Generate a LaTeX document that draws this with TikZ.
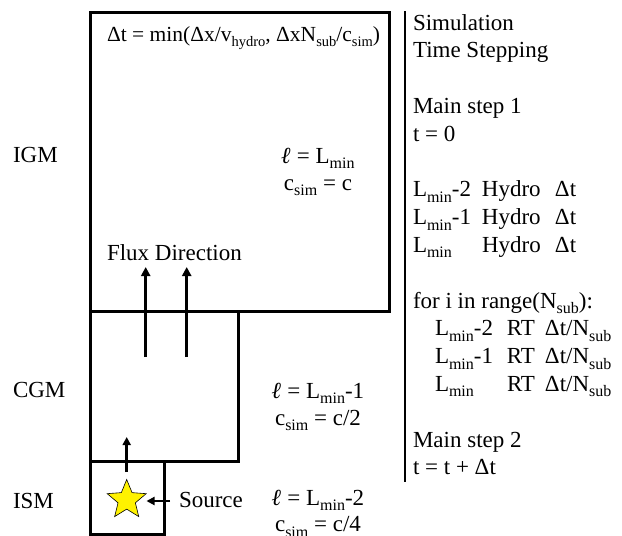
\documentclass[tikz,border=0pt]{standalone}
\usepackage{fontspec}
\setmainfont{Liberation Serif}
\usetikzlibrary{arrows.meta,shapes.geometric}
\newcommand\lsub[1]{\raisebox{-0.24em}{\fontsize{16}{16}\selectfont #1}}
\newcommand\fsub[1]{\raisebox{-0.24em}{\fontsize{14.5}{14.5}\selectfont #1}}
\newcommand\Lm{L\lsub{min}}
\newcommand\ellsym{\textbf{\textit{ℓ}}}
\begin{document}
\begin{tikzpicture}[x=1pt,y=-1pt,
  every node/.style={inner sep=0pt, outer sep=0pt, font=\fontsize{23}{27}\selectfont},
  txt/.style={anchor=base west},
  ctxt/.style={anchor=base},
  box/.style={draw, line width=3pt, rectangle},
  arr/.style={line width=3pt, -{Triangle[length=9pt,width=9pt]}},
  sarr/.style={line width=2.5pt, -{Triangle[length=8pt,width=8pt]}},
  rule/.style={line width=1.3pt}]
\useasboundingbox (0,0) rectangle (622,536);
% boxes
\node[box, minimum width=299pt, minimum height=299pt] (igm) at (239.5,161.5) {};
\node[box, minimum width=148pt, minimum height=150pt] (cgm) at (164,386) {};
\node[box, minimum width=74pt, minimum height=73pt] (ism) at (127,497.5) {};
% region labels
\node[txt] (igml) at (13,162) {IGM};
\node[txt] (cgml) at (13,397) {CGM};
\node[txt] (isml) at (13,508) {ISM};
% formula
\node[txt, font=\fontsize{21.5}{25}\selectfont] (dt) at (107,41) {Δt = min(Δx/v\fsub{hydro}, ΔxN\fsub{sub}/c\fsub{sim})};
% level parameters
\node[ctxt] (l0) at (318,163) {\ellsym\ = \Lm};
\node[ctxt] (c0) at (318,190) {c\lsub{sim} = c};
\node[ctxt] (l1) at (318,398) {\ellsym\ = \Lm-1};
\node[ctxt] (c1) at (318,425) {c\lsub{sim} = c/2};
\node[ctxt] (l2) at (318,505) {\ellsym\ = \Lm-2};
\node[ctxt] (c2) at (318,531.5) {c\lsub{sim} = c/4};
% flux
\node[txt] (flux) at (107,260) {Flux Direction};
\coordinate (f1a) at (145.7,357);
\coordinate (f1b) at (145.7,267);
\coordinate (f2a) at (186.7,357);
\coordinate (f2b) at (186.7,267);
\draw[arr] (f1a) -- (f1b);
\draw[arr] (f2a) -- (f2b);
% star and source
\node[star, star points=5, star point ratio=2.25, minimum size=41pt, fill=yellow, draw, line width=0.6pt] (star) at (126.7,500) {};
\coordinate (up1) at (126.7,472);
\coordinate (up2) at (126.7,437);
\draw[sarr] (up1) -- (up2);
\node[txt] (src) at (179,507) {Source};
\coordinate (s1) at (170,501);
\coordinate (s2) at (146.5,501);
\draw[sarr] (s1) -- (s2);
% right column
\coordinate (vt) at (405,11);
\coordinate (vb) at (405,482);
\draw[rule] (vt) -- (vb);
\node[txt] (r1) at (413,30) {Simulation};
\node[txt] (r2) at (413,57.8) {Time Stepping};
\node[txt] (r3) at (413,113.4) {Main step 1};
\node[txt] (r4) at (413,141.2) {t = 0};
\node[txt] (r5) at (413,196.8) {\makebox[69pt][l]{\Lm-2}\makebox[73pt][l]{Hydro}Δt};
\node[txt] (r6) at (413,224.6) {\makebox[69pt][l]{\Lm-1}\makebox[73pt][l]{Hydro}Δt};
\node[txt] (r7) at (413,252.4) {\makebox[69pt][l]{\Lm}\makebox[73pt][l]{Hydro}Δt};
\node[txt] (r8) at (413,308) {for i in range(N\lsub{sub}):};
\node[txt] (r9) at (435,335.8) {\makebox[72pt][l]{\Lm-2}\makebox[38pt][l]{RT}Δt/N\lsub{sub}};
\node[txt] (r10) at (435,363.6) {\makebox[72pt][l]{\Lm-1}\makebox[38pt][l]{RT}Δt/N\lsub{sub}};
\node[txt] (r11) at (435,391.4) {\makebox[72pt][l]{\Lm}\makebox[38pt][l]{RT}Δt/N\lsub{sub}};
\node[txt] (r12) at (413,447) {Main step 2};
\node[txt] (r13) at (413,474.8) {t = t + Δt};
\end{tikzpicture}
\end{document}
